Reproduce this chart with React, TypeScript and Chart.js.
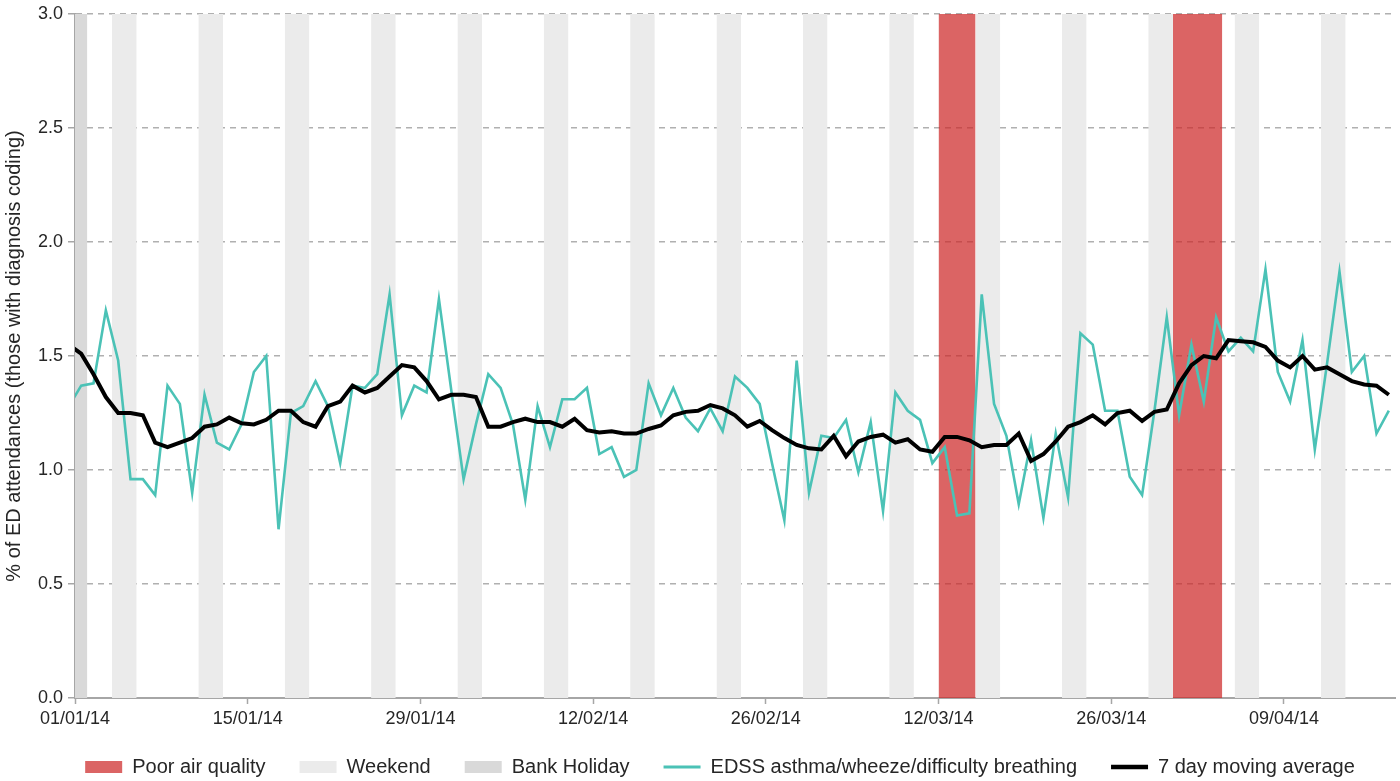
import React, { useEffect, useRef } from 'react';
import { Chart, registerables } from 'chart.js';

Chart.register(...registerables);

// Daily values, 31/12/13 .. 17/04/14 (first value is 31/12/13, clipped at the axis)
const edssValues: number[] = [
  1.28,
  1.37, 1.38, 1.70, 1.48, 0.96, 0.96, 0.89, 1.37, 1.29, 0.90,
  1.33, 1.12, 1.09, 1.20, 1.43, 1.50, 0.74, 1.25, 1.28, 1.39,
  1.28, 1.03, 1.37, 1.36, 1.42, 1.77, 1.24, 1.37, 1.34, 1.75,
  1.35, 0.96, 1.20, 1.42, 1.36, 1.20, 0.87, 1.28, 1.10, 1.31,
  1.31, 1.36, 1.07, 1.10, 0.97, 1.00, 1.38, 1.24, 1.36, 1.23,
  1.17, 1.27, 1.17, 1.41, 1.36, 1.29, 1.03, 0.78, 1.48, 0.90,
  1.15, 1.14, 1.22, 0.99, 1.21, 0.82, 1.34, 1.26, 1.22, 1.03,
  1.10, 0.80, 0.81, 1.77, 1.29, 1.15, 0.85, 1.13, 0.79, 1.16,
  0.88, 1.60, 1.55, 1.26, 1.26, 0.97, 0.89, 1.26, 1.67, 1.24,
  1.55, 1.30, 1.67, 1.52, 1.58, 1.52, 1.88, 1.43, 1.30, 1.57,
  1.09, 1.47, 1.87, 1.43, 1.50, 1.16, 1.26,
];

const movingAverage: number[] = [
  1.55,
  1.51, 1.42, 1.32, 1.25, 1.25, 1.24, 1.12, 1.10, 1.12, 1.14,
  1.19, 1.20, 1.23, 1.205, 1.20, 1.22, 1.26, 1.26, 1.21, 1.19,
  1.28, 1.30, 1.37, 1.34, 1.36, 1.41, 1.46, 1.45, 1.39, 1.31,
  1.33, 1.33, 1.32, 1.19, 1.19, 1.21, 1.225, 1.21, 1.21, 1.19,
  1.225, 1.175, 1.165, 1.17, 1.16, 1.16, 1.18, 1.195, 1.24, 1.255,
  1.26, 1.285, 1.27, 1.24, 1.19, 1.215, 1.175, 1.14, 1.11, 1.095,
  1.09, 1.15, 1.06, 1.125, 1.145, 1.155, 1.12, 1.135, 1.09, 1.08,
  1.145, 1.145, 1.13, 1.10, 1.11, 1.11, 1.16, 1.04, 1.07, 1.125,
  1.19, 1.21, 1.24, 1.20, 1.25, 1.26, 1.215, 1.255, 1.265, 1.38,
  1.46, 1.50, 1.49, 1.57, 1.565, 1.56, 1.54, 1.48, 1.45, 1.50,
  1.44, 1.45, 1.42, 1.39, 1.375, 1.37, 1.33,
];

// Day numbers counted from 01/01/14 = 0
const poorAirDays: number[] = [70, 71, 72, 89, 90, 91, 92];
const weekendDays: number[] = [
  3, 4, 10, 11, 17, 18, 24, 25, 31, 32, 38, 39, 45, 46, 52, 53, 59, 60,
  66, 67, 73, 74, 80, 81, 87, 88, 94, 95, 101, 102,
];
const bankHolidayDays: number[] = [0];

const tickDays: number[] = [0, 14, 28, 42, 56, 70, 84, 98];
const tickLabels: string[] = [
  '01/01/14', '15/01/14', '29/01/14', '12/02/14',
  '26/02/14', '12/03/14', '26/03/14', '09/04/14',
];

const dayCount = 107; // 01/01/14 .. 17/04/14
const yMax = 3;

const seriesLabels = [
  'Poor air quality',
  'Weekend',
  'Bank Holiday',
  'EDSS asthma/wheeze/difficulty breathing',
  '7 day moving average',
];

function bandPoints(days: number[]) {
  const s = [...days].sort((a, b) => a - b);
  const pts: { x: number; y: number | null }[] = [];
  let i = 0;
  while (i < s.length) {
    let j = i;
    while (j + 1 < s.length && s[j + 1] === s[j] + 1) j++;
    if (pts.length) pts.push({ x: s[i] - 0.5, y: null });
    pts.push({ x: s[i], y: yMax });
    pts.push({ x: s[j] + 1, y: yMax });
    i = j + 1;
  }
  return pts;
}

// first value belongs to the day before 01/01/14; points sit at day centres
const toPoints = (vals: number[]) => vals.map((v, i) => ({ x: i - 0.5, y: v }));

const FONT = '"Liberation Sans", Arial, Helvetica, sans-serif';
const TEXT = '#262626';

// nudges the legend block to the reference position
const legendShift = {
  id: 'legendShift',
  afterLayout(chart: any) {
    const lg = chart.legend;
    if (!lg) return;
    lg.left += 45;
    lg.top -= 7;
    lg.bottom -= 7;
  },
};

export default function App() {
  const ref = useRef<HTMLCanvasElement | null>(null);

  useEffect(() => {
    document.body.style.margin = '0';
    const canvas = ref.current;
    if (!canvas) return;

    const colors = {
      red: 'rgba(205,40,40,0.72)',
      weekend: '#ebebeb',
      bank: '#d9d9d9',
      teal: '#4bc2b6',
      black: '#000000',
    };

    const band = (label: string, days: number[], color: string, order: number) => ({
      type: 'line' as const,
      label,
      data: bandPoints(days),
      backgroundColor: color,
      borderColor: 'transparent',
      borderWidth: 0,
      pointRadius: 0,
      fill: 'origin',
      spanGaps: false,
      order,
    });

    const chart = new Chart(canvas, {
      type: 'line',
      data: {
        datasets: [
          band(seriesLabels[0], poorAirDays, colors.red, 2),
          band(seriesLabels[1], weekendDays, colors.weekend, 4),
          band(seriesLabels[2], bankHolidayDays, colors.bank, 3),
          {
            type: 'line',
            label: seriesLabels[3],
            data: toPoints(edssValues),
            borderColor: colors.teal,
            backgroundColor: colors.teal,
            borderWidth: 2.6,
            pointRadius: 0,
            tension: 0,
            fill: false,
            clip: 0,
            order: 1,
          },
          {
            type: 'line',
            label: seriesLabels[4],
            data: toPoints(movingAverage),
            borderColor: colors.black,
            backgroundColor: colors.black,
            borderWidth: 4,
            pointRadius: 0,
            tension: 0,
            fill: false,
            clip: 0,
            order: 0,
          },
        ] as any,
      },
      plugins: [legendShift],
      options: {
        animation: false,
        responsive: true,
        maintainAspectRatio: false,
        layout: { padding: { top: 9, right: 5, left: 0, bottom: -13 } },
        plugins: {
          tooltip: { enabled: false },
          legend: {
            position: 'bottom',
            labels: {
              usePointStyle: true,
              pointStyleWidth: 37,
              boxHeight: 12,
              padding: 34,
              color: TEXT,
              font: { family: FONT, size: 20 },
              generateLabels: (ch: any) =>
                ch.data.datasets.map((ds: any, i: number) => {
                  const isLine = i >= 3;
                  return {
                    text: ds.label,
                    datasetIndex: i,
                    fillStyle: isLine ? ds.borderColor : ds.backgroundColor,
                    strokeStyle: isLine ? ds.borderColor : ds.backgroundColor,
                    lineWidth: isLine ? ds.borderWidth + 0.5 : 0,
                    pointStyle: isLine ? 'line' : 'rect',
                    hidden: false,
                    fontColor: TEXT,
                  };
                }),
            },
          },
        },
        scales: {
          x: {
            type: 'linear',
            min: 0,
            max: dayCount,
            afterBuildTicks: (axis: any) => {
              axis.ticks = tickDays.map((v) => ({ value: v }));
            },
            afterFit: (axis: any) => {
              axis.height = 32;
            },
            ticks: {
              autoSkip: false,
              maxRotation: 0,
              padding: 4,
              color: TEXT,
              font: { family: FONT, size: 18 },
              callback: (v: any) => {
                const k = tickDays.indexOf(Number(v));
                return k >= 0 ? tickLabels[k] : '';
              },
            },
            grid: {
              drawOnChartArea: false,
              drawTicks: true,
              tickLength: 6,
              tickColor: '#a6a6a6',
              tickWidth: 1.5,
            },
            border: { display: true, color: '#a6a6a6', width: 2 },
          },
          y: {
            type: 'linear',
            min: 0,
            max: yMax,
            afterFit: (axis: any) => {
              axis.width = 75;
            },
            ticks: {
              stepSize: 0.5,
              padding: 5,
              color: TEXT,
              font: { family: FONT, size: 18, lineHeight: 1 },
              callback: (v: any) => Number(v).toFixed(1),
            },
            grid: {
              color: '#b0b0b0',
              lineWidth: 1.5,
              drawTicks: true,
              tickLength: 7,
              tickColor: '#a6a6a6',
              tickWidth: 1.5,
            },
            border: { display: true, color: '#a6a6a6', width: 2, dash: [6, 5] },
            title: {
              display: true,
              text: '% of ED attendances (those with diagnosis coding)',
              color: TEXT,
              font: { family: FONT, size: 20 },
              padding: { top: 2, bottom: 2 },
            },
          },
        },
      } as any,
    });

    return () => chart.destroy();
  }, []);

  return (
    <div style={{ width: 1400, height: 781, position: 'relative' }}>
      <canvas ref={ref} />
    </div>
  );
}
